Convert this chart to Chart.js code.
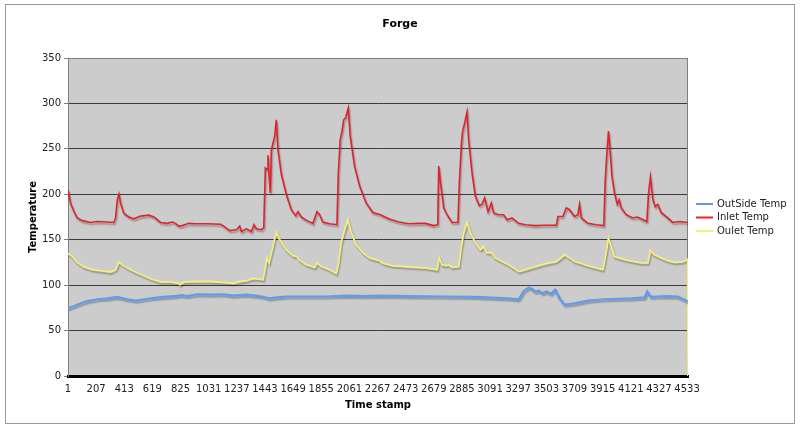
<!DOCTYPE html>
<html>
<head>
<meta charset="utf-8">
<title>Forge</title>
<script src="https://cdn.jsdelivr.net/npm/chart.js@4.4.1/dist/chart.umd.min.js"></script>
<style>
  html, body { margin: 0; padding: 0; background: #fff; }
  #wrap { width: 800px; height: 428px; }
</style>
</head>
<body>
<div id="wrap"><canvas id="chart" width="800" height="428"></canvas></div>
<script>
// tick labels on the time axis
const timeTicks = [1, 207, 413, 619, 825, 1031, 1237, 1443, 1649, 1855, 2061, 2267,
  2473, 2679, 2885, 3091, 3297, 3503, 3709, 3915, 4121, 4327, 4533];

const seriesNames = ['OutSide Temp', 'Inlet Temp', 'Oulet Temp'];

// OutSide Temp
const outsideStamp = [1, 45, 94, 142, 215, 289, 362, 435, 496, 557, 630, 703, 776, 837, 873, 947,
  1044, 1142, 1209, 1307, 1404, 1478, 1526, 1599, 1746, 1892, 2038, 2184, 2282, 2496, 2739, 2983,
  3227, 3300, 3336, 3373, 3397, 3422, 3447, 3478, 3503, 3539, 3568, 3600, 3637, 3710, 3807, 3929,
  4124, 4222, 4241, 4270, 4319, 4392, 4465, 4526, 4538];
const outsideTemp = [74.5, 77, 80, 82.5, 84.5, 85.5, 87, 84.5, 83, 84.5, 86, 87, 88, 89, 88, 90,
  89.5, 90, 88.5, 89.5, 88, 85.5, 86.5, 87.5, 87.5, 87.5, 88.5, 88, 88.5, 88, 87.5, 87,
  85.5, 84.5, 93, 97.5, 96, 93, 94, 91, 93, 90.5, 95, 85.5, 78.5, 80, 83, 84.5,
  85.5, 86.5, 93, 87, 87.5, 88, 87.5, 83, 82];

// Inlet Temp
const inletStamp = [1, 20, 45, 69, 106, 167, 215, 288, 337, 349, 362, 374, 386, 410, 447, 483, 532,
  593, 630, 679, 727, 764, 788, 812, 837, 886, 934, 1020, 1117, 1141, 1185, 1234, 1258, 1270, 1307,
  1344, 1363, 1380, 1417, 1434, 1446, 1458, 1465, 1473, 1482, 1490, 1502, 1514, 1526, 1538, 1563,
  1599, 1636, 1668, 1685, 1709, 1750, 1794, 1824, 1843, 1867, 1916, 1970, 1980, 1994, 2009, 2019,
  2033, 2053, 2067, 2099, 2136, 2184, 2233, 2289, 2349, 2423, 2496, 2569, 2618, 2678, 2708, 2715,
  2727, 2752, 2776, 2813, 2856, 2866, 2881, 2890, 2905, 2922, 2934, 2959, 2983, 3012, 3032, 3051,
  3076, 3100, 3117, 3154, 3190, 3215, 3251, 3300, 3349, 3422, 3490, 3576, 3588, 3624, 3649, 3673,
  3710, 3734, 3746, 3759, 3807, 3868, 3924, 3934, 3946, 3958, 3971, 3983, 4002, 4022, 4036, 4051,
  4088, 4136, 4168, 4197, 4239, 4251, 4265, 4283, 4300, 4319, 4343, 4392, 4429, 4477, 4538];
const inletTemp = [205, 190, 181, 174, 171, 169, 170, 169.5, 169, 174, 194, 200, 190, 179, 175, 173, 176,
  177, 175, 169, 168, 169.5, 168, 165, 165.5, 168, 167.5, 167.5, 167, 165, 160, 161, 165, 159, 162,
  159, 166.5, 162, 161, 163, 229, 227, 243, 220, 201.5, 249, 256.5, 264, 282, 249, 222,
  200, 183, 176.5, 181, 175, 171, 168, 181, 177.5, 169.5, 167.5, 166.5, 223.5, 260, 271, 282,
  284, 295, 264, 231, 209, 190.5, 180, 177.5, 173, 169.5, 167.5, 168, 168, 165.5, 166.5, 231,
  214, 185, 177.5, 169, 169, 212.5, 255, 269.5, 278.5, 290.5, 260, 223.5, 198, 187.5, 189, 196,
  181, 190.5, 179.5, 177.5, 177.5, 172, 174, 168, 166.5, 165.5, 166, 166, 175.5, 175.5, 185, 183,
  175.5, 177.5, 189, 174, 168, 166.5, 165.5, 216, 245.5, 269.5, 245.5, 220, 201.5, 189, 194, 185,
  177.5, 174, 175, 173, 170, 201.5, 219, 194, 186.5, 189, 180, 174, 169, 170, 169];

// Oulet Temp (last reading drops to 0)
const outletStamp = [1, 33, 69, 118, 179, 240, 313, 349, 374, 398, 459, 532, 605, 679, 752, 813, 820,
  849, 947, 1044, 1142, 1209, 1258, 1307, 1356, 1392, 1429, 1441, 1458, 1473, 1490, 1507, 1526, 1551,
  1599, 1648, 1677, 1692, 1746, 1807, 1824, 1855, 1916, 1965, 1980, 2001, 2026, 2050, 2075, 2111,
  2160, 2209, 2282, 2301, 2374, 2496, 2618, 2703, 2720, 2739, 2764, 2788, 2813, 2861, 2881, 2898,
  2922, 2947, 2983, 3020, 3044, 3068, 3100, 3129, 3178, 3227, 3263, 3300, 3349, 3422, 3490, 3576,
  3637, 3673, 3710, 3746, 3807, 3868, 3917, 3934, 3958, 3978, 4002, 4032, 4075, 4148, 4197, 4246,
  4265, 4295, 4343, 4392, 4441, 4502, 4538, 4540];
const outletTemp = [135, 131.5, 125, 120, 117, 116, 114.5, 117, 125.5, 122.5, 117, 112, 107, 103.5, 103.5, 102, 100.5,
  103.5, 104, 104, 103, 102, 104, 105, 107.5, 107, 106, 115, 130, 124.5, 135.5, 146.5, 158, 150,
  139, 132.5, 131.5, 128, 122.5, 119.5, 124.5, 120.5, 117, 113, 122.5, 146.5, 161, 172, 157.5, 144.5,
  135.5, 130, 127, 124.5, 121.5, 120, 119, 117, 130, 122.5, 121.5, 122.5, 119.5, 120.5, 142.5, 157.5,
  169, 157.5, 146.5, 139, 142.5, 135.5, 136, 130, 126, 122.5, 119, 115, 117, 120.5, 123.5, 126,
  133.5, 130, 126, 124.5, 121.5, 119, 117, 130, 152, 142.5, 131.5, 130, 128, 126, 124.5, 124.5,
  138, 133.5, 130, 127, 125, 126, 128.5, 0];

const toPoints = (xs, ys) => xs.map((x, i) => ({ x: x, y: ys[i] }));

const lineFont = "'DejaVu Sans', Verdana, sans-serif";

const excelLook = {
  id: 'excelLook',
  beforeDraw(chart) {
    const { ctx, chartArea: a } = chart;
    ctx.save();
    ctx.fillStyle = '#fff';
    ctx.fillRect(0, 0, chart.width, chart.height);
    ctx.strokeStyle = '#9a9a9a';
    ctx.lineWidth = 1;
    ctx.strokeRect(5.5, 4.5, 789, 419);
    ctx.fillStyle = '#cccccc';
    ctx.fillRect(a.left, a.top, a.right - a.left, a.bottom - a.top);
    ctx.restore();
  },
  beforeDatasetsDraw(chart) {
    const { ctx, chartArea: a } = chart;
    ctx.save();
    ctx.strokeStyle = '#808080';
    ctx.lineWidth = 1;
    ctx.beginPath();
    ctx.moveTo(a.left, a.top + 0.5);
    ctx.lineTo(a.right - 0.5, a.top + 0.5);
    ctx.lineTo(a.right - 0.5, a.bottom);
    ctx.stroke();
    ctx.restore();
    ctx.save();
    ctx.shadowColor = 'rgba(0,0,0,0.3)';
    ctx.shadowBlur = 1.5;
    ctx.shadowOffsetX = 1;
    ctx.shadowOffsetY = 2;
  },
  afterDatasetsDraw(chart) {
    chart.ctx.restore();
  },
  afterDraw(chart) {
    const { ctx, chartArea: a } = chart;
    ctx.save();
    ctx.fillStyle = '#000';
    ctx.font = 'bold 11px ' + lineFont;
    ctx.textAlign = 'center';
    ctx.textBaseline = 'middle';
    ctx.fillText('Forge', 400, 24);
    // legend
    ctx.font = '10px ' + lineFont;
    ctx.textAlign = 'left';
    chart.data.datasets.forEach((ds, i) => {
      const y = a.top + 146 + i * 13.5;
      ctx.strokeStyle = ds.borderColor;
      ctx.lineWidth = 2;
      ctx.beginPath();
      ctx.moveTo(a.right + 8, y);
      ctx.lineTo(a.right + 25, y);
      ctx.stroke();
      ctx.fillStyle = '#222';
      ctx.fillText(ds.label, a.right + 29, y);
    });
    ctx.restore();
  }
};

new Chart(document.getElementById('chart'), {
  type: 'line',
  data: {
    datasets: [
      { label: seriesNames[0], data: toPoints(outsideStamp, outsideTemp), borderColor: '#5e9cf2', borderWidth: 2.2 },
      { label: seriesNames[1], data: toPoints(inletStamp, inletTemp), borderColor: '#e0232c', borderWidth: 1.6 },
      { label: seriesNames[2], data: toPoints(outletStamp, outletTemp), borderColor: '#f6ee7a', borderWidth: 1.8 }
    ]
  },
  options: {
    responsive: false,
    animation: false,
    devicePixelRatio: 1,
    layout: { padding: { left: 0, right: 112, top: 58, bottom: 0 } },
    elements: { point: { radius: 0 }, line: { tension: 0, fill: false } },
    plugins: {
      legend: { display: false },
      title: { display: false },
      tooltip: { enabled: false }
    },
    scales: {
      x: {
        type: 'linear',
        min: 1,
        max: 4540,
        afterBuildTicks: (s) => { s.ticks = timeTicks.map(v => ({ value: v })); },
        afterFit: (s) => { s.height = 52; },
        grid: { drawOnChartArea: false, color: 'transparent', tickLength: 4 },
        border: { color: '#000', width: 3 },
        ticks: { autoSkip: false, maxRotation: 0, padding: 3, color: '#222',
          callback: (v) => String(v),
          font: { family: lineFont, size: 10 } },
        title: { display: true, text: 'Time stamp', color: '#000',
          font: { family: lineFont, size: 10, weight: 'bold' }, padding: { top: 0, bottom: 17 } }
      },
      y: {
        min: 0,
        max: 350,
        afterFit: (s) => { s.width = 68; },
        grid: { color: '#3c3c3c', tickColor: '#808080', tickLength: 4 },
        border: { color: '#808080', width: 1 },
        ticks: { stepSize: 50, padding: 3, color: '#222',
          font: { family: lineFont, size: 10 } },
        title: { display: true, text: 'Temperature', color: '#000',
          font: { family: lineFont, size: 10, weight: 'bold' }, padding: { top: 27, bottom: 0 } }
      }
    }
  },
  plugins: [excelLook]
});
</script>
</body>
</html>
